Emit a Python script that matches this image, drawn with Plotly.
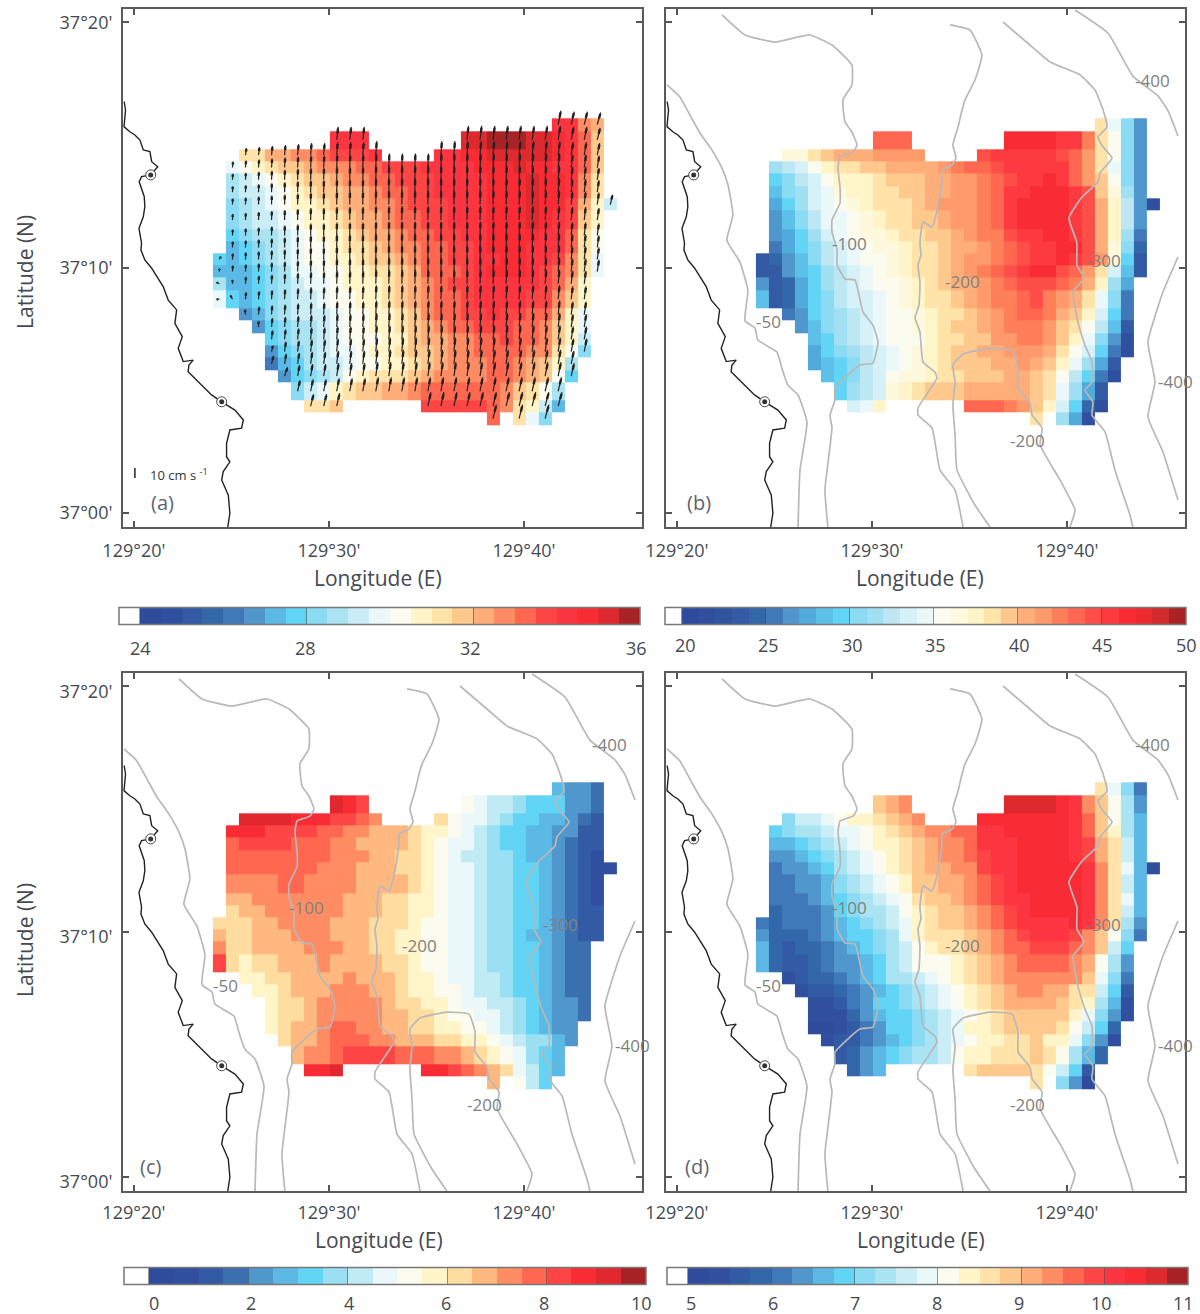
import plotly.graph_objects as go

_ = None
NCOLS = 31

def row(start, vals):
    r = [None] * start + list(vals)
    return r + [None] * (NCOLS - len(r))

# Grid edges in arc-minutes past 129 deg E / 37 deg N
LON_EDGES = [24.05 + 0.668 * i for i in range(NCOLS + 1)]
LAT_EDGES = [16.09, 15.58, 14.84, 14.33, 13.83, 13.33, 12.82, 12.32, 11.56, 11.06, 10.58, 10.08,
             9.59, 9.08, 8.33, 7.83, 7.31, 6.82, 6.32, 5.82, 5.31, 4.59, 4.09, 3.57]

# Colour-bin index read for every cell (bin 0 = first bin right of the lower tick)
BINS_A = [
 row(26,[20,20,17,16]),
 row(9,[20,20,20,_,_,_,_,_,_,_,22,22,23,23,23,22,22,21,20,18,15]),
 row(2,[14,14,16,16,17,17,18,19,19,19,20,_,_,_,_,20,20,21,21,22,22,22,22,22,21,20,18,15]),
 row(1,[11,12,13,14,15,15,16,17,17,17,18,18,19,19,19,20,20,20,20,21,21,21,22,21,21,20,20,18,15]),
 row(1,[9,10,11,12,13,14,15,15,16,17,17,18,18,19,19,19,20,20,20,20,21,21,21,22,21,21,20,17,14]),
 row(1,[9,10,10,11,12,13,14,15,15,16,16,17,18,18,19,19,20,20,20,20,21,21,21,22,21,21,20,17,14]),
 row(1,[8,9,10,11,12,13,13,14,15,16,16,17,17,18,19,19,19,20,20,20,21,21,21,22,21,21,19,16,13,10]),
 row(1,[8,9,10,10,11,12,13,13,14,15,16,16,17,18,18,19,19,20,20,20,21,21,21,22,21,20,19,15,13]),
 row(1,[7,8,9,9,10,11,12,13,13,14,15,16,16,17,18,18,19,19,20,20,21,21,21,21,20,20,18,14,12]),
 row(1,[6,7,8,9,10,11,12,12,13,14,14,15,16,17,17,18,18,19,19,20,21,21,21,20,20,20,18,14,12]),
 row(0,[7,6,7,8,9,10,11,12,12,13,13,14,15,15,16,17,18,18,19,19,20,20,21,21,20,20,19,17,14,11]),
 row(0,[6,6,6,7,8,9,11,11,12,12,13,13,14,14,15,16,18,18,18,19,20,21,21,21,20,19,18,17,14,11]),
 row(0,[9,6,6,7,8,9,10,11,11,12,13,13,13,14,15,16,17,18,19,19,20,20,20,20,20,19,18,16,13]),
 row(0,[11,7,6,7,8,9,10,10,11,12,12,13,13,14,15,16,17,18,18,19,20,20,20,20,19,19,17,15,13]),
 row(2,[5,6,8,9,10,10,10,11,12,12,13,13,14,15,17,18,18,19,19,20,19,19,18,18,16,13,11]),
 row(3,[5,7,8,9,9,10,11,12,12,13,13,14,15,16,17,18,18,19,19,19,18,18,17,15,13,11]),
 row(4,[7,8,9,9,10,11,12,12,12,13,13,15,16,16,17,17,18,18,19,18,18,17,15,13,10]),
 row(4,[5,7,8,9,10,11,11,12,13,13,14,15,15,16,17,17,18,18,18,18,17,17,14,12,8]),
 row(4,[4,6,7,9,10,10,11,12,12,13,13,14,15,16,17,17,17,18,18,17,16,15,13,9]),
 row(5,[5,7,8,9,10,12,13,14,14,14,15,16,17,17,17,17,18,18,17,16,15,12,7]),
 row(6,[8,10,11,13,14,15,15,16,16,17,18,18,18,18,18,18,17,15,14,12,9]),
 row(7,[14,14,15,_,_,_,_,_,_,19,19,19,19,19,18,17,14,13,10,6]),
 row(21,[18,_,14,11,8]),
]
BINS_B = [
 row(26,[18,14,10,6]),
 row(9,[23,23,23,_,_,_,_,_,_,_,26,26,26,26,25,25,22,18,15,10,6]),
 row(2,[16,16,18,19,20,20,20,21,21,21,21,_,_,_,_,24,25,25,25,25,25,24,23,21,18,15,10,6]),
 row(1,[11,12,13,15,17,18,18,19,19,20,20,20,20,21,22,23,23,24,25,25,25,25,25,23,21,18,14,10,6]),
 row(1,[9,10,12,13,15,17,17,17,18,19,19,19,20,20,21,21,22,23,24,25,25,26,25,23,21,19,15,10,6]),
 row(1,[8,10,11,13,14,16,17,17,18,18,19,19,20,20,21,21,22,23,25,25,26,26,26,25,24,19,16,11,6]),
 row(1,[7,9,11,13,14,15,16,17,18,18,18,19,20,21,21,21,22,23,25,26,26,26,26,25,24,20,17,12,6,1]),
 row(1,[6,8,10,12,14,14,15,16,17,18,18,19,19,20,21,21,22,23,25,26,26,26,26,25,24,20,17,12,6]),
 row(1,[6,7,9,11,13,14,15,16,16,17,18,18,19,19,20,21,22,22,24,25,25,26,26,25,24,20,17,11,5]),
 row(1,[5,7,9,10,12,13,14,15,16,16,17,18,18,19,20,20,21,22,23,24,25,25,26,26,24,20,16,10,4]),
 row(0,[3,4,6,8,10,12,13,14,15,15,16,17,18,18,19,20,21,21,22,23,24,25,25,26,25,24,21,16,9,3]),
 row(0,[3,3,6,8,9,11,12,13,14,15,16,17,18,18,19,20,21,22,23,24,25,26,26,24,23,21,18,13,8,3]),
 row(0,[6,3,4,7,9,11,12,13,14,15,15,16,17,18,19,20,20,21,22,23,24,24,24,23,22,20,17,11,7]),
 row(0,[8,3,4,7,9,10,12,13,13,14,15,16,17,18,18,19,20,21,22,22,23,24,22,21,20,18,14,10,5]),
 row(2,[5,6,9,10,11,12,13,14,15,15,16,17,18,18,19,20,21,22,23,23,22,20,19,17,13,9,5]),
 row(3,[6,8,10,11,12,13,14,15,15,16,17,18,19,19,20,21,22,22,22,21,19,18,15,12,8,3]),
 row(4,[8,9,11,12,13,14,15,15,15,17,18,18,19,19,21,21,22,22,21,19,17,14,10,6,1]),
 row(4,[7,9,10,11,12,13,14,15,16,17,18,19,19,20,20,21,21,21,20,18,15,13,9,5,1]),
 row(4,[7,8,9,10,12,13,14,15,16,17,18,19,19,19,20,20,21,20,19,17,14,11,7,3]),
 row(5,[8,9,10,12,13,15,16,16,17,18,18,19,19,19,20,20,19,18,15,12,9,5,1]),
 row(6,[9,11,12,13,16,17,18,19,19,19,20,20,20,20,20,19,18,14,11,7,3]),
 row(7,[13,14,17,_,_,_,_,_,_,23,23,23,22,21,19,17,13,9,4,1]),
 row(21,[18,_,11,7,1]),
]
BINS_C = [
 row(26,[5,4,4,3]),
 row(9,[18,17,16,_,_,_,_,_,_,_,10,9,8,8,7,6,6,6,4,4,3]),
 row(2,[18,18,18,18,17,17,17,16,16,15,14,_,_,_,_,12,10,9,9,8,7,6,6,5,5,4,3,2]),
 row(1,[17,17,17,16,16,16,16,15,15,14,14,13,13,13,12,11,11,10,9,8,7,6,6,5,5,4,4,2,2]),
 row(1,[15,16,16,16,16,15,15,15,14,14,13,13,13,13,12,11,10,9,9,8,7,6,6,5,5,4,3,2,2]),
 row(1,[15,15,15,15,15,15,15,15,14,14,14,13,13,12,12,11,10,9,8,8,7,7,6,5,5,4,3,2,1]),
 row(1,[15,15,15,15,15,15,15,14,14,14,13,13,13,12,12,11,10,9,9,8,7,7,6,6,5,4,3,2,1,1]),
 row(1,[14,14,14,14,15,15,14,14,14,14,13,13,13,13,12,11,10,9,9,8,7,7,6,6,5,4,3,2,1]),
 row(1,[13,13,14,14,14,14,14,14,14,13,13,13,12,12,11,11,10,9,9,8,7,7,6,6,5,4,3,2,1]),
 row(1,[12,13,13,14,14,14,14,14,14,13,13,13,12,12,11,11,10,9,9,8,7,7,6,6,5,4,3,2,2]),
 row(0,[12,12,12,13,13,14,14,14,14,13,13,13,12,12,12,11,10,10,9,9,8,7,7,6,6,5,4,3,2,2]),
 row(0,[13,12,12,13,13,13,14,14,14,13,13,13,12,12,11,11,10,10,9,9,8,7,7,6,5,5,4,3,2,2]),
 row(0,[14,12,12,13,13,13,13,14,14,14,13,13,12,12,11,11,10,10,9,9,8,7,7,6,6,5,4,3,3]),
 row(0,[16,12,11,12,12,13,13,13,14,13,13,13,13,12,12,11,10,10,9,9,8,7,7,6,6,5,4,3,3]),
 row(2,[11,11,12,12,13,13,13,13,14,13,13,13,12,11,11,10,9,9,8,8,7,6,6,5,4,3,3]),
 row(3,[11,11,12,13,13,13,14,14,14,13,13,12,11,11,10,10,9,8,8,7,6,6,5,4,3,3]),
 row(4,[11,12,12,13,14,14,14,14,14,13,12,12,11,11,10,9,9,8,8,7,6,5,4,4,3]),
 row(4,[11,12,12,13,14,14,14,14,14,13,13,12,12,11,10,10,9,9,8,7,6,5,4,4,3]),
 row(4,[11,12,13,13,14,15,15,14,14,13,13,12,12,11,11,10,10,9,8,7,6,5,4,4]),
 row(5,[12,13,13,14,15,15,15,14,14,13,13,13,12,12,11,11,10,9,8,7,7,5,4]),
 row(6,[13,14,14,15,16,16,16,16,15,15,15,14,14,13,12,11,10,9,7,6,5]),
 row(7,[17,17,18,_,_,_,_,_,_,17,17,16,15,14,13,12,9,8,6,5]),
 row(21,[13,_,10,8,6]),
]
BINS_D = [
 row(26,[14,11,8,4]),
 row(9,[15,16,17,_,_,_,_,_,_,_,22,22,22,22,21,20,17,15,12,9,5]),
 row(2,[8,10,10,11,12,13,13,14,15,16,17,_,_,_,_,21,21,21,21,21,21,21,20,18,15,12,9,6]),
 row(1,[7,8,9,9,10,11,11,12,13,14,15,16,17,17,18,18,20,20,21,21,21,21,21,20,18,15,13,9,6]),
 row(1,[6,6,7,8,9,10,11,12,13,13,14,15,16,17,17,18,20,20,20,21,21,21,21,20,19,16,14,10,6]),
 row(1,[5,5,6,7,8,9,10,11,12,13,14,15,16,17,17,18,19,20,20,21,21,21,21,20,19,16,14,10,6]),
 row(1,[4,5,5,6,7,9,10,11,12,13,14,15,16,16,17,17,19,20,20,21,21,21,21,21,20,17,14,11,6,1]),
 row(1,[4,4,5,5,6,8,9,10,11,12,13,15,15,16,16,17,18,19,20,21,21,21,21,21,20,17,14,10,6]),
 row(1,[4,4,4,5,6,7,8,9,10,11,12,14,15,15,16,17,18,19,20,20,21,21,21,21,20,17,14,11,6]),
 row(1,[3,4,4,4,5,7,8,9,9,10,12,13,14,15,15,16,17,18,19,20,21,21,21,21,20,17,14,10,6]),
 row(0,[4,3,4,4,4,5,6,7,8,9,10,11,13,14,15,15,16,17,18,19,20,20,20,20,21,20,17,14,9,5]),
 row(0,[5,3,3,3,4,5,6,7,7,8,9,11,13,14,14,14,15,16,17,18,19,20,20,20,19,17,15,12,8,4]),
 row(0,[6,3,2,3,3,4,5,6,7,8,9,10,12,13,14,14,15,16,17,18,18,19,19,19,18,17,15,10,7]),
 row(0,[6,3,2,2,3,4,5,5,6,7,9,10,12,12,12,13,14,15,16,17,18,18,18,18,17,16,12,9,5]),
 row(2,[1,2,3,3,4,5,6,7,9,9,10,11,12,13,14,15,16,17,17,17,17,17,17,15,11,8,4]),
 row(3,[1,2,2,3,4,5,6,7,8,9,10,11,12,13,14,15,16,17,17,16,16,14,14,10,7,2]),
 row(4,[1,1,2,4,5,7,7,8,9,10,11,12,13,14,15,16,16,16,16,15,14,13,9,6,1]),
 row(4,[1,1,1,3,5,6,7,7,8,9,10,11,12,13,14,15,15,15,15,15,13,11,8,5,1]),
 row(4,[0,0,1,2,4,5,7,7,8,9,10,11,13,13,14,15,15,15,15,14,12,10,7,3]),
 row(5,[1,2,2,4,5,6,7,8,9,10,11,12,13,13,14,14,15,13,13,11,8,5,1]),
 row(6,[2,3,5,6,7,8,9,9,10,12,13,13,14,14,14,15,14,12,9,6,3]),
 row(7,[3,5,6,_,_,_,_,_,_,14,15,15,15,15,14,12,10,7,2]),
 row(21,[14,_,8,5,0]),
]

# Current vectors, cm/s, read per column / row, with the near-shore exceptions
COL_NORTH = [3,6,7,8,9,10,11,12,12,13,13,13,14,14,14,14,14,14,14,14,14,14,14,14,14,14,14,13,13,12,10]
COL_EAST = [0,0,0,0,0,0,0,0,0,0,0,0,0,0,0,0,0,0,0,0,0.2,0.3,0.4,0.5,0.6,0.7,0.8,1,1.2,1.4,2]
ROW_EAST = [2,1.5,1,0.6,0.4,0.3,0.3,0.3,0.3,0.3,0.3,0.4,0.5,0.6,0.7,0.9,1.1,1.4,1.7,2,2.5,3,3]
VECTOR_EXCEPTIONS = {(10,0):(1.5,3),(11,0):(0,3),(12,0):(-3,1.5),(13,0):(-3,0),(13,1):(-2,4),(12,1):(0,4),
                     (14,2):(-0.5,5),(15,3):(0,6),(17,4):(1.5,6),(18,4):(2,8),(19,5):(3,9)}
SKIP_VECTORS = {(22,24)}

# Coast, arc-minutes
COAST_LON = [19.50,19.57,19.49,19.79,20.05,20.31,20.48,20.82,20.91,21.22,20.86,20.39,20.27,20.53,20.56,20.48,20.26,20.39,20.36,20.56,20.91,21.25,21.50,21.76,22.19,22.10,22.48,22.27,22.53,23.04,22.82,22.78,23.30,23.98,24.50,25.18,25.61,25.52,24.92,24.75,24.75,24.92,24.58,24.50,24.84,24.92,24.81]
COAST_LAT = [16.77,16.43,15.75,15.54,15.41,15.20,14.80,14.73,14.32,14.11,13.78,13.71,13.50,12.89,12.48,12.07,11.60,10.99,10.71,10.31,9.97,9.56,9.22,8.67,8.27,7.72,7.18,6.70,6.16,6.22,6.02,5.75,5.34,4.80,4.52,4.18,3.78,3.44,3.37,2.82,2.28,2.07,1.67,1.33,0.71,-0.03,-0.59]
SITE_LON = [20.86, 24.50]
SITE_LAT = [13.78, 4.52]

# Isobaths, arc-minutes
ISO50_LON = [19.49,20.15,20.67,21.18,21.79,22.31,22.62,22.87,22.56,23.23,23.64,23.49,24.0,24.15,25.13,25.38,25.69,26.21,26.67,26.31,26.21]
ISO50_LAT = [17.45,16.96,16.22,15.49,14.80,14.06,13.37,12.14,11.12,10.22,9.08,7.82,7.53,7.04,6.55,5.90,5.20,4.80,3.69,1.73,-0.59]
ISO100_LON = [22.31,23.49,25.03,26.82,27.95,28.97,28.97,28.51,28.62,28.97,29.23,29.03,28.36,28.26,28.36,28.36,27.95,27.95,28.21,28.21,28.62,29.13,29.54,30.05,30.31,30.05,29.38,28.10,28.10,27.85,27.95,27.59,27.74]
ISO100_LAT = [20.31,19.49,19.20,19.49,19.08,18.27,17.45,16.84,15.94,15.53,15.0,14.71,14.51,14.06,13.29,12.63,11.94,11.45,10.71,10.10,9.53,9.49,8.18,7.65,6.96,6.10,6.02,5.08,4.59,3.98,3.45,0.92,-0.59]
ISO200A_LON = [34.0,35.03,35.64,35.28,34.77,34.62,34.41,34.15,34.31,34.10,33.59,33.59,33.38,33.08,32.62,32.46,32.51,32.36,32.46,32.41,32.21,32.46,32.62,33.23,33.33,32.36,32.36,33.08,33.49,34.26,34.67]
ISO200A_LAT = [19.90,19.69,18.67,17.65,16.84,16.43,15.73,15.0,14.47,14.18,13.98,13.57,12.47,11.65,11.86,11.0,10.51,10.10,9.41,8.47,7.94,7.37,6.14,5.73,5.49,4.27,3.98,3.45,1.73,0.92,-0.59]
ISO200B_LON = [36.05,35.28,34.36,34.26,34.15,34.26,34.15,34.67,36.05,37.18,37.49,37.49,38.10,38.21,38.72,38.62,39.64,40.41,40.15]
ISO200B_LAT = [-0.59,0.31,1.73,3.16,4.39,5.33,6.02,6.47,6.71,6.63,5.90,5.08,4.47,3.98,3.45,2.76,1.33,0.10,-0.59]
ISO300_LON = [36.72,38.10,39.13,40.67,41.44,41.85,42.05,41.59,41.85,42.31,41.69,41.59,40.77,40.10,40.51,40.51,40.87,40.31,40.56,40.92,41.28,41.28,40.92,41.33,41.28,41.95,42.46,43.23,43.38]
ISO300_LAT = [20.02,19.08,18.39,17.86,17.24,16.43,15.73,15.33,14.92,14.47,13.86,13.49,12.88,12.02,11.0,10.10,9.57,9.0,7.78,6.84,6.14,5.33,5.0,4.51,3.98,3.29,1.73,-0.10,-0.59]
ISO400A_LON = [40.41,42.10,43.38,44.67,45.18,45.69]
ISO400A_LAT = [20.51,19.57,17.81,17.00,16.39,15.37]
ISO400B_LON = [45.69,44.92,44.15,44.51,44.15,44.92,45.69]
ISO400B_LAT = [10.43,9.00,6.96,5.33,3.90,2.47,0.51]
ISOBATHS = [(ISO50_LON,ISO50_LAT),(ISO100_LON,ISO100_LAT),(ISO200A_LON,ISO200A_LAT),(ISO200B_LON,ISO200B_LAT),
            (ISO300_LON,ISO300_LAT),(ISO400A_LON,ISO400A_LAT),(ISO400B_LON,ISO400B_LAT)]
ISO_LABELS = ["-400","-100","-200","-300","-50","-400","-200"]
ISO_LABEL_LON = [44.36,28.87,34.62,41.85,24.67,45.54,37.95]
ISO_LABEL_LAT = [17.65,10.96,9.41,10.27,7.78,5.33,2.96]

LON_TICKS = [20,30,40]
LON_LABELS = ["129°20'","129°30'","129°40'"]
LAT_TICKS = [0,10,20]
LAT_LABELS = ["37°00'","37°10'","37°20'"]

PAL_24 = ["#2f4b9b","#30509f","#335aa5","#3268aa","#3f79ba","#4f97cd","#5cb8e4","#62d4f6","#8adbf3","#aae3f2","#cbedf6","#ebf8fa",
          "#fbfcef","#fff5c8","#ffe3a8","#ffc98e","#ffae7a","#ff8c63","#ff6750","#fd4545","#fc3540","#f92c35","#dc2a2e","#a82326"]
PAL_30 = ["#2f4b9b","#30509f","#31549f","#335aa5","#3268aa","#3f79ba","#4f97cd","#50aadb","#5cc0e8","#62d4f6","#8adbf3","#a0e0f2",
          "#bde8f3","#d6f1f8","#ebf8fa","#fbfcef","#fef9dc","#fff5c8","#ffe3a8","#ffc98e","#ffae7a","#ff9a6b","#ff8058","#ff6750",
          "#fd4f48","#fc3a40","#f92c35","#ee2a30","#d32a2e","#a82326"]
PAL_20 = ["#2f4b9b","#30509f","#335aa5","#3a70b0","#4f97cd","#5cb8e4","#62d4f6","#9ae0f2","#c0eaf4","#ebf8fa","#fbfcef","#fff5c8",
          "#ffdca0","#ffb880","#ff8c63","#ff6750","#fd4545","#f92c35","#e0282e","#a82326"]

PANELS = [
    dict(bins=BINS_A, pal=PAL_24, vmin=24, step=0.5, ticks=[24,28,32,36], ax="", x0=122, y0=8, label="(a)", label_lon=21.44,
         bar=(119,640,607,624), tick_y=648, label_x=(140,636), ylabels=True, standoff=6, shift=0, xt=(378,578), yt=272),
    dict(bins=BINS_B, pal=PAL_30, vmin=20, step=1, ticks=[20,25,30,35,40,45,50], ax="2", x0=665, y0=8, label="(b)", label_lon=21.13,
         bar=(665,1186,607,624), tick_y=645, label_x=(685,1186), ylabels=False, standoff=6, shift=0, xt=(920,578), yt=None),
    dict(bins=BINS_C, pal=PAL_20, vmin=0, step=0.5, ticks=[0,2,4,6,8,10], ax="3", x0=122, y0=672, label="(c)", label_lon=20.87,
         bar=(124,646,1267,1284), tick_y=1303, label_x=(154,641), ylabels=True, standoff=4, shift=5, xt=(379,1240), yt=940),
    dict(bins=BINS_D, pal=PAL_24, vmin=5, step=0.25, ticks=[5,6,7,8,9,10,11], ax="4", x0=665, y0=672, label="(d)", label_lon=21.03,
         bar=(667,1188,1267,1284), tick_y=1303, label_x=(691,1183), ylabels=False, standoff=4, shift=0, xt=(921,1240), yt=None),
]

W, H = 1200, 1314
TEXT = "#454a52"
FONT = "Open Sans"
fig = go.Figure()
ann = []
layout = {}

for i, p in enumerate(PANELS):
    n = len(p["pal"])
    zmin = p["vmin"] - p["step"]
    zmax = p["vmin"] + n * p["step"]
    cols = ["#ffffff"] + p["pal"]
    scale = []
    for k, c in enumerate(cols):
        scale += [[k / (n + 1), c], [(k + 1) / (n + 1), c]]
    z = [[None if b is None else p["vmin"] + (b + 0.5) * p["step"] for b in r] for r in p["bins"]]
    xa, ya = "x" + p["ax"], "y" + p["ax"]
    bx0, bx1, by0, by1 = p["bar"]
    fig.add_trace(go.Heatmap(
        x=LON_EDGES, y=LAT_EDGES, z=z, xaxis=xa, yaxis=ya, zmin=zmin, zmax=zmax, colorscale=scale,
        hoverongaps=False,
        colorbar=dict(orientation="h", x=bx0 / W, xanchor="left", y=1 - (by1 + 19) / H, yanchor="bottom",
                      len=(bx1 - bx0) / W, lenmode="fraction", thickness=by1 - by0, thicknessmode="pixels",
                      xpad=0, ypad=0, outlinecolor="#777", outlinewidth=1.5, tickvals=p["ticks"], ticks="inside",
                      ticklen=by1 - by0, tickwidth=1, tickcolor="rgba(70,70,70,0.55)", showticklabels=False),
    ))
    lx0, lx1 = p["label_x"]
    for t in p["ticks"]:
        f = (t - p["ticks"][0]) / (p["ticks"][-1] - p["ticks"][0])
        ann.append(dict(text=str(t), x=(lx0 + f * (lx1 - lx0)) / W, y=1 - p["tick_y"] / H, xref="paper", yref="paper",
                        showarrow=False, xanchor="center", yanchor="middle", font=dict(family=FONT, size=18, color=TEXT)))

    layout["xaxis" + p["ax"]] = dict(
        domain=[(p["x0"] + 1) / W, (p["x0"] + 520) / W], range=[19.44, 46.05], anchor=ya,
        tickvals=LON_TICKS, ticktext=LON_LABELS, ticks="inside", ticklen=6, tickwidth=1.5, tickcolor="#555",
        mirror="ticks", showline=True, linewidth=2, linecolor="#5a5a5a", showgrid=False, zeroline=False,
        ticklabelstandoff=p["standoff"], tickfont=dict(family=FONT, size=18, color=TEXT))
    layout["yaxis" + p["ax"]] = dict(
        domain=[1 - (p["y0"] + 519) / H, 1 - (p["y0"] + 1) / H], range=[-0.59, 20.55], anchor=xa,
        tickvals=LAT_TICKS, ticktext=LAT_LABELS, ticks="inside", ticklen=6, tickwidth=1.5, tickcolor="#555",
        mirror="ticks", showline=True, linewidth=2, linecolor="#5a5a5a", showgrid=False, zeroline=False,
        showticklabels=p["ylabels"], ticklabelstandoff=5, ticklabelshift=p["shift"],
        tickfont=dict(family=FONT, size=18, color=TEXT))
    ann.append(dict(text="Longitude (E)", x=p["xt"][0] / W, y=1 - p["xt"][1] / H, xref="paper", yref="paper", showarrow=False,
                    xanchor="center", yanchor="middle", font=dict(family=FONT, size=21, color=TEXT)))
    if p["yt"]:
        ann.append(dict(text="Latitude (N)", x=25 / W, y=1 - p["yt"] / H, xref="paper", yref="paper", showarrow=False,
                        xanchor="center", yanchor="middle", textangle=-90, font=dict(family=FONT, size=21, color=TEXT)))

    # isobaths
    if i > 0:
        for lon, lat in ISOBATHS:
            fig.add_trace(go.Scatter(x=lon, y=lat, xaxis=xa, yaxis=ya, mode="lines", showlegend=False, hoverinfo="skip",
                                     line=dict(color="#b8b8b8", width=1.7, shape="spline", smoothing=0.4)))
        for txt, lo, la in zip(ISO_LABELS, ISO_LABEL_LON, ISO_LABEL_LAT):
            ann.append(dict(text=txt, x=lo, y=la, xref=xa, yref=ya, showarrow=False,
                            font=dict(family=FONT, size=17, color="#808080")))
    # vectors: thin shaft with a thick spindle body
    if i == 0:
        sx, sy, bx, by = [], [], [], []
        for r, rw in enumerate(p["bins"]):
            for c, b in enumerate(rw):
                if b is None or (r, c) in SKIP_VECTORS:
                    continue
                u, v = VECTOR_EXCEPTIONS.get((r, c), (ROW_EAST[r] + COL_EAST[c], COL_NORTH[c]))
                cx = (LON_EDGES[c] + LON_EDGES[c + 1]) / 2
                cy = (LAT_EDGES[r] + LAT_EDGES[r + 1]) / 2
                dx, dy = u / 19.5, v / 24.5
                sx += [cx, cx + dx, None]
                sy += [cy, cy + dy, None]
                bx += [cx + 0.5 * dx, cx + 0.88 * dx, None]
                by += [cy + 0.5 * dy, cy + 0.88 * dy, None]
        fig.add_trace(go.Scatter(x=sx, y=sy, xaxis=xa, yaxis=ya, mode="lines", showlegend=False, hoverinfo="skip",
                                 line=dict(color="#222222", width=1.2)))
        fig.add_trace(go.Scatter(x=bx, y=by, xaxis=xa, yaxis=ya, mode="lines", showlegend=False, hoverinfo="skip",
                                 line=dict(color="#222222", width=2.4)))
        # scale vector
        fig.add_trace(go.Scatter(x=[20.05, 20.05], y=[1.41, 1.82], xaxis=xa, yaxis=ya, mode="lines", showlegend=False,
                                 hoverinfo="skip", line=dict(color="#222222", width=1.5)))
        ann.append(dict(text="10 cm s <sup>-1</sup>", x=20.7, y=1.57, xref=xa, yref=ya, showarrow=False, xanchor="left",
                        font=dict(family=FONT, size=13, color="#333")))
    # coast and sites
    fig.add_trace(go.Scatter(x=COAST_LON, y=COAST_LAT, xaxis=xa, yaxis=ya, mode="lines", showlegend=False, hoverinfo="skip",
                             line=dict(color="#222222", width=1.4)))
    fig.add_trace(go.Scatter(x=SITE_LON, y=SITE_LAT, xaxis=xa, yaxis=ya, mode="markers", showlegend=False, hoverinfo="skip",
                             marker=dict(symbol="circle", size=10, color="white", line=dict(color="#444", width=1))))
    fig.add_trace(go.Scatter(x=SITE_LON, y=SITE_LAT, xaxis=xa, yaxis=ya, mode="markers", showlegend=False, hoverinfo="skip",
                             marker=dict(symbol="circle", size=5, color="#333", line=dict(width=0))))
    ann.append(dict(text=p["label"], x=p["label_lon"], y=0.39, xref=xa, yref=ya, showarrow=False,
                    font=dict(family=FONT, size=20, color="#5c6470")))

fig.update_layout(width=W, height=H, margin=dict(l=0, r=0, t=0, b=0, pad=0, autoexpand=False), paper_bgcolor="white",
                  plot_bgcolor="white", showlegend=False, annotations=ann, **layout)
fig.write_html("out.html", post_script="document.body.style.margin='0';", config={"displayModeBar": False})
